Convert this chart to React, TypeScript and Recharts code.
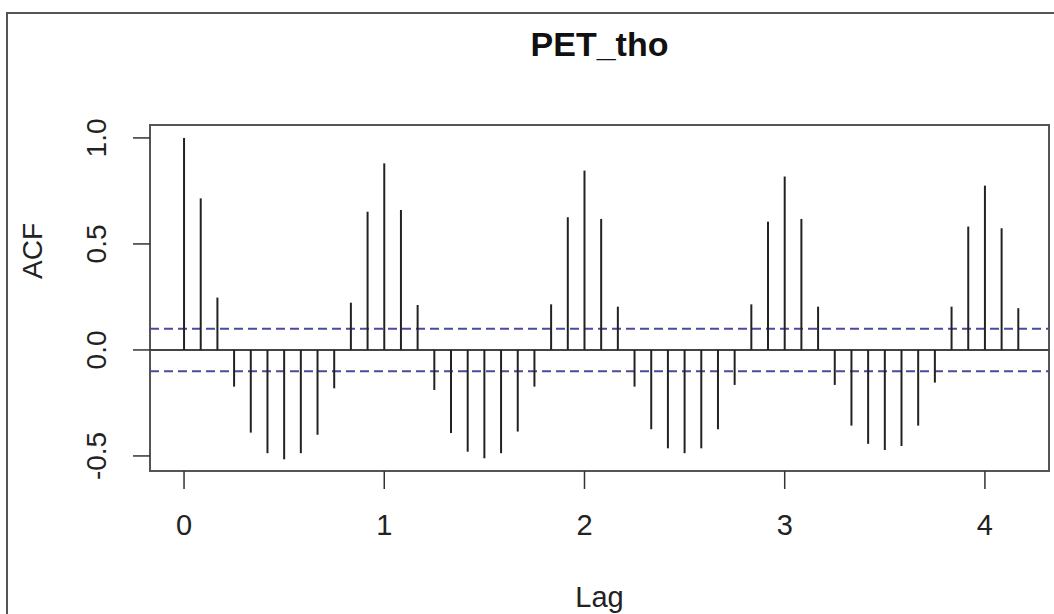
import { ComposedChart, XAxis, YAxis, ReferenceLine, ReferenceArea, Scatter } from 'recharts';

// autocorrelation per lag (lag step = 1/12)
const ACF = [
  1.0, 0.715, 0.247, -0.173, -0.39, -0.487, -0.516, -0.487, -0.4, -0.181,
  0.223, 0.652, 0.88, 0.66, 0.212, -0.189, -0.392, -0.48, -0.511, -0.487,
  -0.385, -0.173, 0.215, 0.626, 0.846, 0.618, 0.204, -0.173, -0.374, -0.464,
  -0.487, -0.464, -0.374, -0.165, 0.215, 0.605, 0.818, 0.618, 0.204, -0.165,
  -0.357, -0.443, -0.472, -0.453, -0.357, -0.154, 0.204, 0.582, 0.775, 0.574,
  0.197,
];
const CI = [0.1, -0.1];
const X_TICKS = [0, 1, 2, 3, 4];
const Y_TICKS = [-0.5, 0, 0.5, 1];
const X_DOMAIN: [number, number] = [-0.17, 4.32];
const Y_DOMAIN: [number, number] = [-0.571, 1.061];

const rows = ACF.map((acf, i) => ({ lag: i / 12, acf }));

const FONT = '"Liberation Sans", Arial, sans-serif';

const XTick = ({ x, y, payload }: any) => (
  <text x={x} y={y + 46} textAnchor="middle" fontSize={29} fill="#222" fontFamily={FONT}>
    {payload.value}
  </text>
);

const YTick = ({ x, y, payload }: any) => {
  const bx = x - 27;
  return (
    <text
      x={bx}
      y={y}
      transform={`rotate(-90, ${bx}, ${y})`}
      textAnchor="middle"
      fontSize={28}
      fill="#222"
      fontFamily={FONT}
    >
      {payload.value.toFixed(1)}
    </text>
  );
};

export default function App() {
  return (
    <div style={{ position: 'absolute', left: 0, top: 0, width: 1054, height: 614, background: '#fff', fontFamily: FONT }}>
      <div
        style={{
          position: 'absolute',
          left: 6,
          top: 12,
          width: 1048,
          height: 602,
          borderLeft: '2px solid #555',
          borderTop: '2px solid #555',
        }}
      />
      <div
        style={{
          position: 'absolute',
          left: 150,
          width: 899,
          top: 27,
          textAlign: 'center',
          fontSize: 34,
          lineHeight: '34px',
          fontWeight: 'bold',
          color: '#111',
        }}
      >
        PET_tho
      </div>
      <div style={{ position: 'absolute', left: 0, top: 0 }}>
        <ComposedChart
          width={1054}
          height={614}
          data={rows}
          margin={{ top: 125, right: 5, bottom: 83, left: 90 }}
        >
          <XAxis
            dataKey="lag"
            type="number"
            domain={X_DOMAIN}
            ticks={X_TICKS}
            allowDataOverflow
            height={60}
            tickSize={18}
            tickMargin={0}
            axisLine={false}
            tickLine={{ stroke: '#333', strokeWidth: 1.5 }}
            tick={XTick}
            label={{
              content: ({ viewBox }: any) => (
                <text
                  x={viewBox.x + viewBox.width / 2}
                  y={viewBox.y + 136}
                  textAnchor="middle"
                  fontSize={29}
                  fill="#222"
                  fontFamily={FONT}
                >
                  Lag
                </text>
              ),
            }}
          />
          <YAxis
            type="number"
            domain={Y_DOMAIN}
            ticks={Y_TICKS}
            allowDataOverflow
            width={60}
            tickSize={17}
            tickMargin={0}
            axisLine={false}
            tickLine={{ stroke: '#333', strokeWidth: 1.5 }}
            tick={YTick}
            label={{
              content: ({ viewBox }: any) => {
                const cx = 42;
                const cy = viewBox.y + viewBox.height / 2 - 47;
                return (
                  <text
                    x={cx}
                    y={cy}
                    transform={`rotate(-90, ${cx}, ${cy})`}
                    textAnchor="middle"
                    fontSize={28}
                    fill="#222"
                    fontFamily={FONT}
                  >
                    ACF
                  </text>
                );
              },
            }}
          />
          <ReferenceArea
            x1={X_DOMAIN[0]}
            x2={X_DOMAIN[1]}
            y1={Y_DOMAIN[0]}
            y2={Y_DOMAIN[1]}
            fill="none"
            stroke="#555"
            strokeWidth={2}
            ifOverflow="visible"
          />
          <ReferenceLine y={0} stroke="#444" strokeWidth={2} />
          {CI.map((c) => (
            <ReferenceLine key={c} y={c} stroke="#4b4b9a" strokeWidth={2} strokeDasharray="9 5" />
          ))}
          {rows.map((r) => (
            <ReferenceLine
              key={r.lag}
              segment={[{ x: r.lag, y: 0 }, { x: r.lag, y: r.acf }]}
              stroke="#222"
              strokeWidth={2}
              ifOverflow="visible"
            />
          ))}
          <Scatter dataKey="acf" shape={() => <g />} isAnimationActive={false} />
        </ComposedChart>
      </div>
    </div>
  );
}
